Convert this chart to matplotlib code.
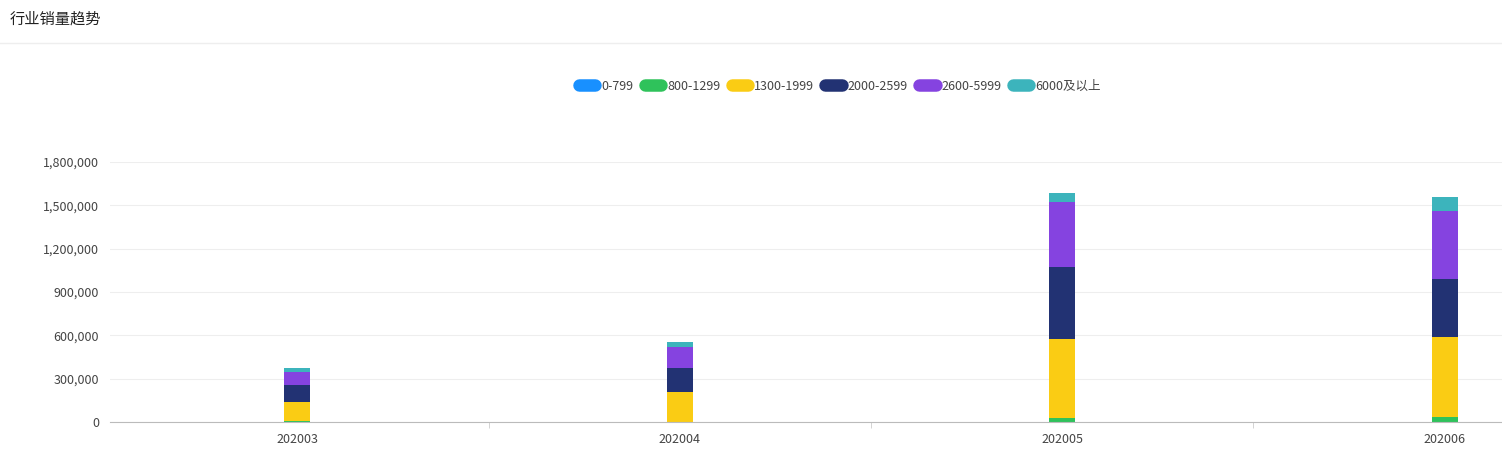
import matplotlib
matplotlib.use("Agg")
import matplotlib.pyplot as plt
from matplotlib.lines import Line2D
from matplotlib.ticker import FuncFormatter, FixedLocator
import numpy as np

plt.rcParams['font.family'] = ['Noto Sans CJK SC', 'DejaVu Sans']

months = ["202003", "202004", "202005", "202006"]
series_names = ["0-799", "800-1299", "1300-1999", "2000-2599", "2600-5999", "6000及以上"]
colors = ["#1890ff", "#2fc25b", "#facc14", "#223273", "#8543e0", "#3cb4bc"]
# values per price band, per month
s0_799 = [500, 500, 1000, 1000]
s800_1299 = [3000, 2000, 28000, 35000]
s1300_1999 = [137000, 206000, 547000, 553000]
s2000_2599 = [115000, 166000, 498000, 402000]
s2600_5999 = [90000, 146000, 450000, 471000]
s6000 = [30000, 34000, 62000, 97000]
all_series = [s0_799, s800_1299, s1300_1999, s2000_2599, s2600_5999, s6000]

fig = plt.figure(figsize=(15.02, 4.62), dpi=100)
ax = fig.add_axes([110/1502, 1-422/462, 1392/1502, 260/462])

x = np.arange(len(months))
bottom = np.zeros(len(months))
for name, vals, c in zip(series_names, all_series, colors):
    ax.bar(x, vals, 0.068, bottom=bottom, color=c, label=name)
    bottom += np.array(vals)

ax.set_xlim(-0.49, 3.15)
ax.set_ylim(0, 1800000)
ax.set_yticks(np.arange(0, 1800001, 300000))
ax.yaxis.set_major_formatter(FuncFormatter(lambda v, p: f"{int(v):,}"))
ax.set_xticks(x)
ax.set_xticklabels(months)
ax.xaxis.set_minor_locator(FixedLocator([0.5, 1.5, 2.5]))
ax.tick_params(axis='x', which='major', length=0, labelsize=9, colors='#444444', pad=8)
ax.tick_params(axis='x', which='minor', length=4, color='#cccccc')
ax.tick_params(axis='y', length=0, labelsize=9, colors='#444444', pad=8)
ax.grid(axis='y', color='#eeeeee', linewidth=0.8)
ax.set_axisbelow(True)
for s in ['top', 'right', 'left']:
    ax.spines[s].set_visible(False)
ax.spines['bottom'].set_color('#bbbbbb')

handles = [Line2D([0], [0], color=c, lw=9, solid_capstyle='round') for c in colors]
fig.legend(handles, series_names, loc='center', bbox_to_anchor=(840/1502, 1-86/462),
           ncol=6, frameon=False, fontsize=9, handlelength=1.3, columnspacing=0.9,
           handletextpad=0.5, labelcolor='#444444')

fig.text(10/1502, 1-19/462, "行业销量趋势", fontsize=11, va='center', color='#222222')
fig.add_artist(Line2D([0, 1], [1-43/462, 1-43/462], color='#eeeeee', lw=1))

fig.savefig("out.png", dpi=100)
